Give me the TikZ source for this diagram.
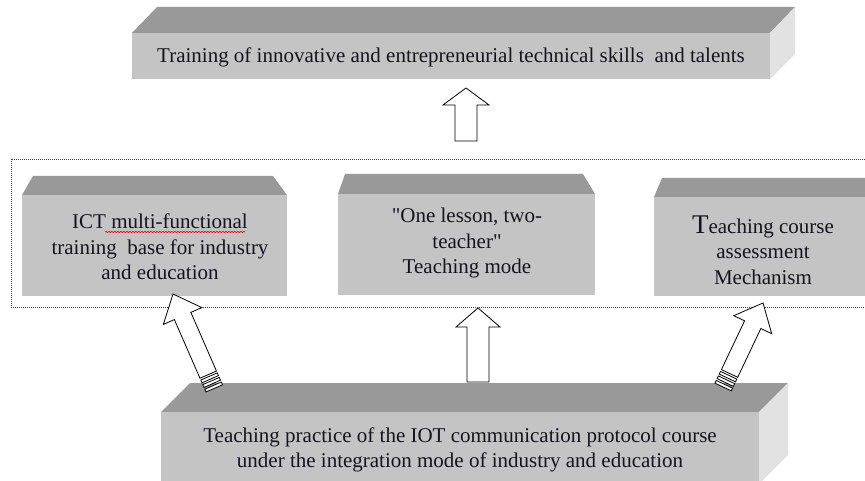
\documentclass[tikz,border=0pt]{standalone}
\usepackage{fontspec}
\setmainfont{Liberation Serif}
\usetikzlibrary{calc,decorations.pathmorphing}
\definecolor{facefront}{HTML}{C4C4C4}
\definecolor{facetop}{HTML}{999999}
\definecolor{faceside}{HTML}{E2E2E2}
\definecolor{inkc}{HTML}{14141E}

% typewriter-style double quote, set as a glyph so no ligature mapping curls it
\newcommand\straightquote{\XeTeXglyph\XeTeXcharglyph"22\relax}

\tikzset{
  topf/.style={fill=facetop},
  frontf/.style={fill=facefront},
  sidef/.style={fill=faceside},
  txt/.style={align=center, font=\fontsize{21}{25.5}\selectfont, text=inkc, inner sep=0pt},
  layerframe/.style={draw=black!75, line width=0.9pt, dash pattern=on 1pt off 1pt},
  blockarrow/.style={draw=black, fill=white, line width=0.8pt, line join=miter},
  % hollow block arrow pointing up: length / head half-width / head length / shaft half-width
  pics/uparrow/.style args={#1/#2/#3/#4}{code={
    \draw[blockarrow] (0,0) -- (#2,#3) -- (#4,#3) -- (#4,#1) -- (-#4,#1)
      -- (-#4,#3) -- (-#2,#3) -- cycle;
  }},
  % same arrow with a striped tail
  pics/stripedarrow/.style args={#1/#2/#3/#4}{code={
    \draw[blockarrow] (0,0) -- (#2,#3) -- (#4,#3) -- (#4,#1) -- (-#4,#1)
      -- (-#4,#3) -- (-#2,#3) -- cycle;
    \draw[blockarrow] (-#4,#1+2) rectangle (#4,#1+5);
    \draw[blockarrow] (-#4,#1+7) rectangle (#4,#1+10);
    \draw[blockarrow] (-#4,#1+12) rectangle (#4,#1+15);
  }},
}

\begin{document}
\begin{tikzpicture}[x=1pt,y=-1pt]
\useasboundingbox (0,0) rectangle (865,481);
\begin{scope}
\clip (0,0) rectangle (865,481);

% goal block
\path[topf]  (132,33) -- (157,7) -- (795,7) -- (770,33) -- cycle;
\path[sidef] (770,33) -- (795,7) -- (795,54) -- (770,79) -- cycle;
\path[frontf] (132,33) rectangle (770,79);
\node[txt] (goal) at (451,57)
  {Training of innovative and entrepreneurial technical skills \ and talents};

% dotted layer holding the three supports
\draw[layerframe] (11,159) rectangle (900,307);

% left support
\path[topf] (22,195) -- (33,176) -- (273,176) -- (287,195) -- cycle;
\path[frontf] (22,195) rectangle (287,296);
\node[txt] (base) at (160,247)
  {ICT multi-functional\\training \ base for industry\\and education};
\draw[red, line width=0.6pt, decorate,
      decoration={snake, amplitude=0.8pt, segment length=3pt}]
  (105,232) -- (245,232);

% middle support
\path[topf] (338,194) -- (345,174) -- (583,174) -- (595,194) -- cycle;
\path[frontf] (338,194) rectangle (595,295);
\node[txt] (mode) at (467,243)
  {\straightquote One lesson, two-\\teacher\straightquote\\Teaching mode};

% right support
\path[topf] (654,197) -- (662,178) -- (868,178) -- (880,197) -- cycle;
\path[frontf] (654,197) rectangle (880,296);
\node[txt] (assess) at (763,250)
  {{\fontsize{27}{27}\selectfont T}eaching course\\assessment\\Mechanism};

% foundation block
\path[topf]  (161,412) -- (190,383) -- (788,383) -- (759,412) -- cycle;
\path[sidef] (759,412) -- (788,383) -- (788,455) -- (759,484) -- cycle;
\path[frontf] (161,412) rectangle (759,490);
\node[txt] (practice) at (460,450)
  {Teaching practice of the IOT communication protocol course\\under the integration mode of industry and education};

% arrow tips
\coordinate (tipGoal)   at (466,88);
\coordinate (tipMode)   at (478,308);
\coordinate (tipBase)   at (173,294);
\coordinate (tipAssess) at (763,303);

\pic at (tipGoal) {uparrow=53/23/17/11};
\pic at (tipMode) {uparrow=74/22/19/11};
\pic[rotate=23.6]  at (tipBase)   {stripedarrow=88/21/24/9};
\pic[rotate=-25.4] at (tipAssess) {stripedarrow=78/21/24/9};
\end{scope}
\end{tikzpicture}
\end{document}
